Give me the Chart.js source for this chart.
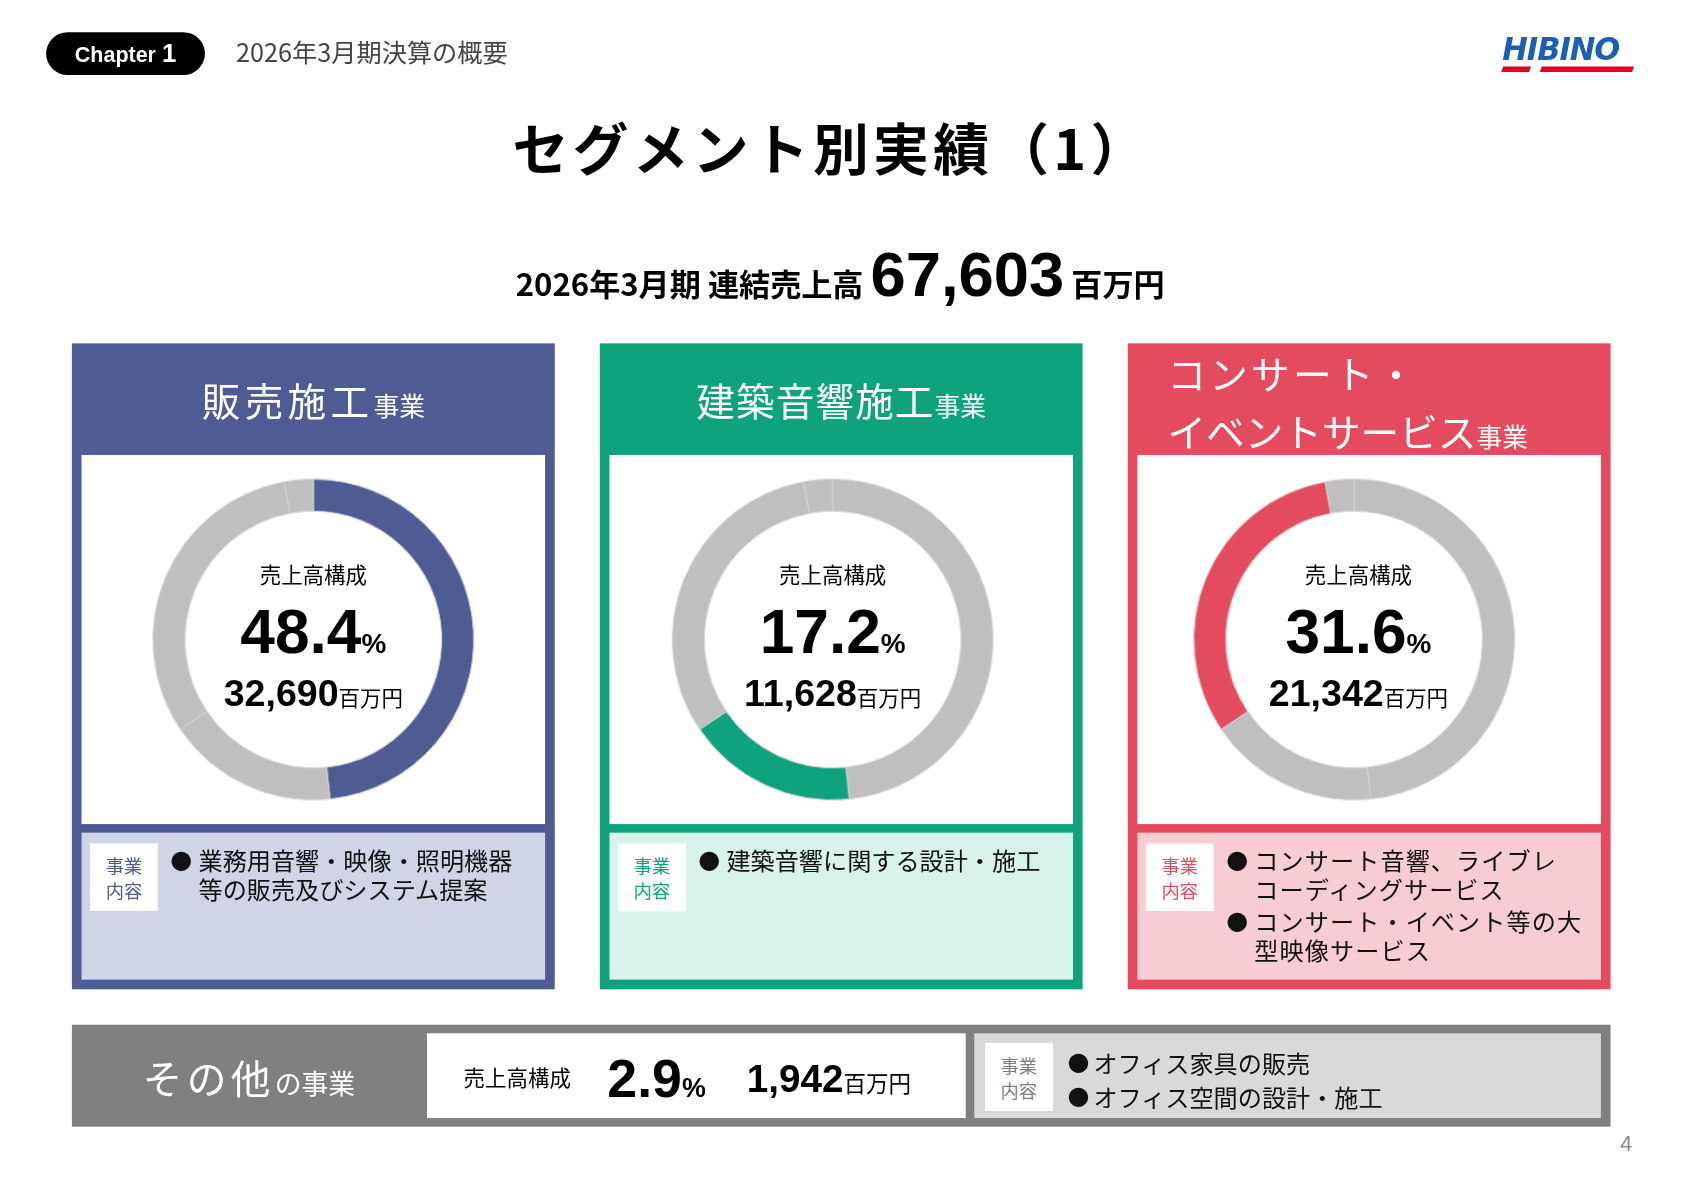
<!DOCTYPE html>
<html><head><meta charset="utf-8">
<script src="https://cdn.jsdelivr.net/npm/chart.js@4"></script>
<style>
html,body{margin:0;padding:0;background:#fff;overflow:hidden}
#page{position:absolute;left:0;top:0;width:1568px;height:1109px;transform:scale(1.073);transform-origin:0 0;font-family:"Liberation Sans","Noto Sans CJK JP",sans-serif;color:#000}
.abs{position:absolute}
.jp{font-family:"Noto Sans CJK JP",sans-serif}
.panel{position:absolute;top:320px;width:450px;height:602px}
.ph{position:absolute;left:0;top:0;width:450px;height:104px;color:#fff;font-family:"Noto Sans CJK JP";}
.white{position:absolute;left:9px;top:104px;width:432px;height:344px;background:#fff}
.light{position:absolute;left:9px;top:456px;width:432px;height:137px}
.tag{position:absolute;left:8px;top:10px;width:63px;height:63px;background:#fff;font-family:"Noto Sans CJK JP";font-size:17px;line-height:23px;text-align:center;display:flex;align-items:center;justify-content:center}
.bul{position:absolute;left:109px;font-family:"Noto Sans CJK JP";font-size:22.5px;line-height:27px;color:#111;white-space:nowrap}
.bul b{position:absolute;left:-26px;font-weight:normal;font-size:20px}
.ctr{position:absolute;width:432px;text-align:center}
</style></head><body>
<div id="page">
  <div class="abs" style="left:43px;top:30px;width:148px;height:40px;background:#000;border-radius:20px;color:#fff;font-weight:bold;font-size:20px;line-height:40px;text-align:center">Chapter <span style="font-size:24px">1</span></div>
  <div class="abs jp" style="left:220px;top:31px;font-size:23.5px;color:#444">2026年3月期決算の概要</div>
  <div class="abs" style="left:1400px;top:26px;width:126px;height:44px">
    <div style="font-family:'DejaVu Sans';font-style:italic;font-weight:bold;font-size:30px;color:#1a5fb4;line-height:40px;transform:scaleX(0.95);transform-origin:0 0;letter-spacing:-1px">HIBINO</div>
    <div class="abs" style="left:0;top:36px;width:26px;height:5px;background:#e60020;transform:skewX(-20deg)"></div>
    <div class="abs" style="left:36px;top:36px;width:86px;height:5px;background:#e60020;transform:skewX(-20deg)"></div>
  </div>
  <div class="abs jp" style="left:0;width:1550px;top:98px;text-align:center;font-size:52px;font-weight:bold;letter-spacing:4px">セグメント別実績（1）</div>
  <div class="abs" style="left:0;width:1566px;top:222px;text-align:center;font-weight:bold;white-space:nowrap">
    <span class="jp" style="font-size:29px">2026年3月期 連結売上高 </span><span style="font-size:59px" id="total"></span><span class="jp" style="font-size:29px"> 百万円</span>
  </div>
  <div id="panels"></div>
  <div class="abs" style="left:67px;top:955px;width:1434px;height:95px;background:#808080">
    <div class="abs jp" style="left:66px;top:22px;color:#fff;white-space:nowrap"><span style="font-size:37px;letter-spacing:4px">その他</span><span style="font-size:25px">の事業</span></div>
    <div class="abs" style="left:331px;top:8px;width:502px;height:79px;background:#fff;white-space:nowrap">
      <span class="abs jp" style="left:34px;top:26px;font-size:20px">売上高構成</span>
      <span class="abs" style="left:168px;top:13px;font-weight:bold"><span style="font-size:50px" id="oShare"></span><span style="font-size:25px">%</span></span>
      <span class="abs" style="left:298px;top:22px;font-weight:bold"><span style="font-size:36px" id="oSales"></span><span class="jp" style="font-size:21px;font-weight:normal">百万円</span></span>
    </div>
    <div class="abs" style="left:841px;top:8px;width:584px;height:79px;background:#d9d9d9">
      <div class="tag" style="left:10px;top:9px;color:#7f7f7f">事業<br>内容</div>
      <div class="bul" style="left:111px;top:11px;font-size:22.5px;line-height:32px"><b style="left:-24px">●</b>オフィス家具の販売<br><span style="position:absolute;left:-24px;font-size:20px">●</span>オフィス空間の設計・施工</div>
    </div>
  </div>
  <div class="abs" style="left:1510px;top:1055px;font-size:20px;color:#888">4</div>
</div>
<script>
const segments = ["販売施工","建築音響施工","コンサート・イベントサービス","その他"];
const shares = [48.4, 17.2, 31.6, 2.9];
const sales = [32690, 11628, 21342, 1942];
const totalSales = 67603;
const panelColors = ["#4f5b93", "#0ea27d", "#e54b5e"];
const lightColors = ["#d0d5e6", "#d8f3ec", "#f7cdd3"];
const headers = [
  '<div style="position:absolute;left:0;width:450px;top:26px;text-align:center;white-space:nowrap"><span style="font-size:36px;letter-spacing:4px">販売施工</span><span style="font-size:24px">事業</span></div>',
  '<div style="position:absolute;left:0;width:450px;top:26px;text-align:center;white-space:nowrap"><span style="font-size:36px;letter-spacing:1px">建築音響施工</span><span style="font-size:24px">事業</span></div>',
  '<div style="position:absolute;left:37px;top:5px;white-space:nowrap;line-height:45px"><span style="font-size:36px;letter-spacing:3px">コンサート・</span><br><span style="font-size:36px">イベントサービス</span><span style="font-size:24px">事業</span></div>'
];
const bullets = [
  ['業務用音響・映像・照明機器<br>等の販売及びシステム提案'],
  ['建築音響に関する設計・施工'],
  ['コンサート音響、ライブレ<br>コーディングサービス','コンサート・イベント等の大<br>型映像サービス']
];
const fmt = n => n.toLocaleString('en-US');
document.getElementById('total').textContent = fmt(totalSales);
document.getElementById('oShare').textContent = shares[3].toFixed(1);
document.getElementById('oSales').textContent = fmt(sales[3]);
const lefts = [67, 559, 1051];
const shiftX = [0, -8, -14];
const host = document.getElementById('panels');
for (let i = 0; i < 3; i++) {
  const p = document.createElement('div');
  p.className = 'panel';
  p.style.left = lefts[i] + 'px';
  p.style.background = panelColors[i];
  let bl = '';
  let top = 12;
  bullets[i].forEach(t => { bl += `<div class="bul" style="top:${top}px;${i===2?'letter-spacing:1px':''}"><b>●</b>${t}</div>`; top += 57; });
  const s = shiftX[i];
  const tx = s + (i === 2 ? 4 : 0);
  p.innerHTML = `<div class="ph">${headers[i]}</div>
   <div class="white"><canvas id="c${i}" width="432" height="344" style="position:absolute;left:0;top:0"></canvas>
     <div class="ctr jp" style="left:${tx}px;top:96px;font-size:20px">売上高構成</div>
     <div class="ctr" style="left:${tx}px;top:131px;font-weight:bold;white-space:nowrap"><span style="font-size:58px">${shares[i].toFixed(1)}</span><span style="font-size:26px">%</span></div>
     <div class="ctr" style="left:${tx}px;top:202px;font-weight:bold;white-space:nowrap"><span style="font-size:35px">${fmt(sales[i])}</span><span class="jp" style="font-size:20px;font-weight:normal">百万円</span></div>
   </div>
   <div class="light" style="background:${lightColors[i]}"><div class="tag" style="color:${panelColors[i]}">事業<br>内容</div>${bl}</div>`;
  host.appendChild(p);
  new Chart(document.getElementById('c' + i), {
    type: 'doughnut',
    data: {
      labels: segments,
      datasets: [{
        data: shares,
        backgroundColor: shares.map((_, k) => k === i ? panelColors[i] : '#bfbfbf'),
        borderColor: '#d4d4d4',
        borderWidth: 1
      }]
    },
    options: {
      responsive: false, animation: false, cutout: '80%',
      layout: { padding: { top: 22, bottom: 22, left: 22 + s, right: 22 - s } },
      plugins: { legend: { display: false }, tooltip: { enabled: false } }
    }
  });
}
</script>
</body></html>
